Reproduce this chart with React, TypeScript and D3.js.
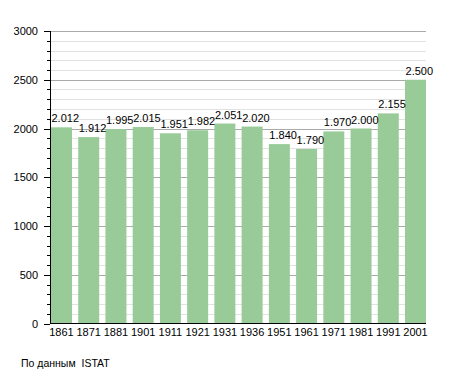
import React, { useRef, useEffect } from 'react';
import * as d3 from 'd3';

const years = ['1861', '1871', '1881', '1901', '1911', '1921', '1931', '1936', '1951', '1961', '1971', '1981', '1991', '2001'];
const population = [2012, 1912, 1995, 2015, 1951, 1982, 2051, 2020, 1840, 1790, 1970, 2000, 2155, 2500];
const majorTicks = [0, 500, 1000, 1500, 2000, 2500, 3000];
const sourceNote = 'По данным  ISTAT';

const W = 455;
const H = 373;
const margin = { top: 31, right: 29, bottom: 50, left: 50 };

const itFormat = d3.formatLocale({
  decimal: ',',
  thousands: '.',
  grouping: [3],
  currency: ['', '']
}).format(',d');

export default () => {
  const svgRef = useRef<SVGSVGElement>(null);

  useEffect(() => {
    if (!svgRef.current) return;
    const svg = d3.select(svgRef.current);
    svg.selectAll('*').remove();

    const x0 = margin.left;
    const x1 = W - margin.right;
    const y0 = H - margin.bottom + 0.5;
    const font = '"Liberation Sans", Arial, sans-serif';

    const x = d3.scaleBand<string>().domain(years).range([x0 + 1, x1]).paddingInner(0.23).paddingOuter(0);
    const y = d3.scaleLinear().domain([0, 3000]).range([y0, margin.top]);

    const minor = d3.range(0, 3001, 100).filter((v) => v % 500 !== 0);

    // grid
    const grid = svg.append('g');
    grid.selectAll('line.minor')
      .data(minor)
      .join('line')
      .attr('x1', x0)
      .attr('x2', x1)
      .attr('y1', (d) => Math.round(y(d)) + 0.5)
      .attr('y2', (d) => Math.round(y(d)) + 0.5)
      .style('stroke', '#e2e2e2')
      .style('stroke-width', 1);
    grid.selectAll('line.major')
      .data(majorTicks.filter((d) => d > 0))
      .join('line')
      .attr('x1', x0)
      .attr('x2', x1)
      .attr('y1', (d) => Math.round(y(d)) + 0.5)
      .attr('y2', (d) => Math.round(y(d)) + 0.5)
      .style('stroke', '#aaaaaa')
      .style('stroke-width', 1);

    // bars
    svg.append('g')
      .selectAll('rect')
      .data(population)
      .join('rect')
      .attr('x', (d, i) => x(years[i]) as number)
      .attr('y', (d) => y(d))
      .attr('width', x.bandwidth())
      .attr('height', (d) => y0 - y(d))
      .style('fill', '#98cb98');

    // value labels (left aligned on the bar)
    svg.append('g')
      .selectAll('text')
      .data(population)
      .join('text')
      .attr('x', (d, i) => (x(years[i]) as number) + 0.5)
      .attr('y', (d) => y(d) - 5)
      .attr('text-anchor', 'start')
      .style('font-family', font)
      .style('font-size', '11px')
      .style('fill', '#000')
      .text((d) => itFormat(d));

    // axes lines
    svg.append('line')
      .attr('x1', x0 + 0.5).attr('x2', x0 + 0.5)
      .attr('y1', margin.top).attr('y2', y0)
      .style('stroke', '#000');
    svg.append('line')
      .attr('x1', x0).attr('x2', x1)
      .attr('y1', y0).attr('y2', y0)
      .style('stroke', '#000');

    // ticks
    svg.append('g')
      .selectAll('line')
      .data(minor)
      .join('line')
      .attr('x1', x0 - 3).attr('x2', x0)
      .attr('y1', (d) => Math.round(y(d)) + 0.5)
      .attr('y2', (d) => Math.round(y(d)) + 0.5)
      .style('stroke', '#000');
    svg.append('g')
      .selectAll('line')
      .data(majorTicks)
      .join('line')
      .attr('x1', x0 - 6).attr('x2', x0)
      .attr('y1', (d) => Math.round(y(d)) + 0.5)
      .attr('y2', (d) => Math.round(y(d)) + 0.5)
      .style('stroke', '#000');

    svg.append('g')
      .selectAll('text')
      .data(majorTicks)
      .join('text')
      .attr('x', 38)
      .attr('y', (d) => y(d) + 4)
      .attr('text-anchor', 'end')
      .style('font-family', font)
      .style('font-size', '11px')
      .text((d) => String(d));

    svg.append('g')
      .selectAll('text')
      .data(years)
      .join('text')
      .attr('x', (d) => (x(d) as number) + x.bandwidth() / 2)
      .attr('y', y0 + 12)
      .attr('text-anchor', 'middle')
      .style('font-family', font)
      .style('font-size', '11px')
      .text((d) => d);

    svg.append('text')
      .attr('x', 21)
      .attr('y', 367)
      .style('font-family', font)
      .style('font-size', '10.5px')
      .style('white-space', 'pre')
      .text(sourceNote);
  }, []);

  return (
    <svg
      ref={svgRef}
      width={W}
      height={H}
      style={{ position: 'absolute', left: 0, top: 0, background: '#fff' }}
    />
  );
};
